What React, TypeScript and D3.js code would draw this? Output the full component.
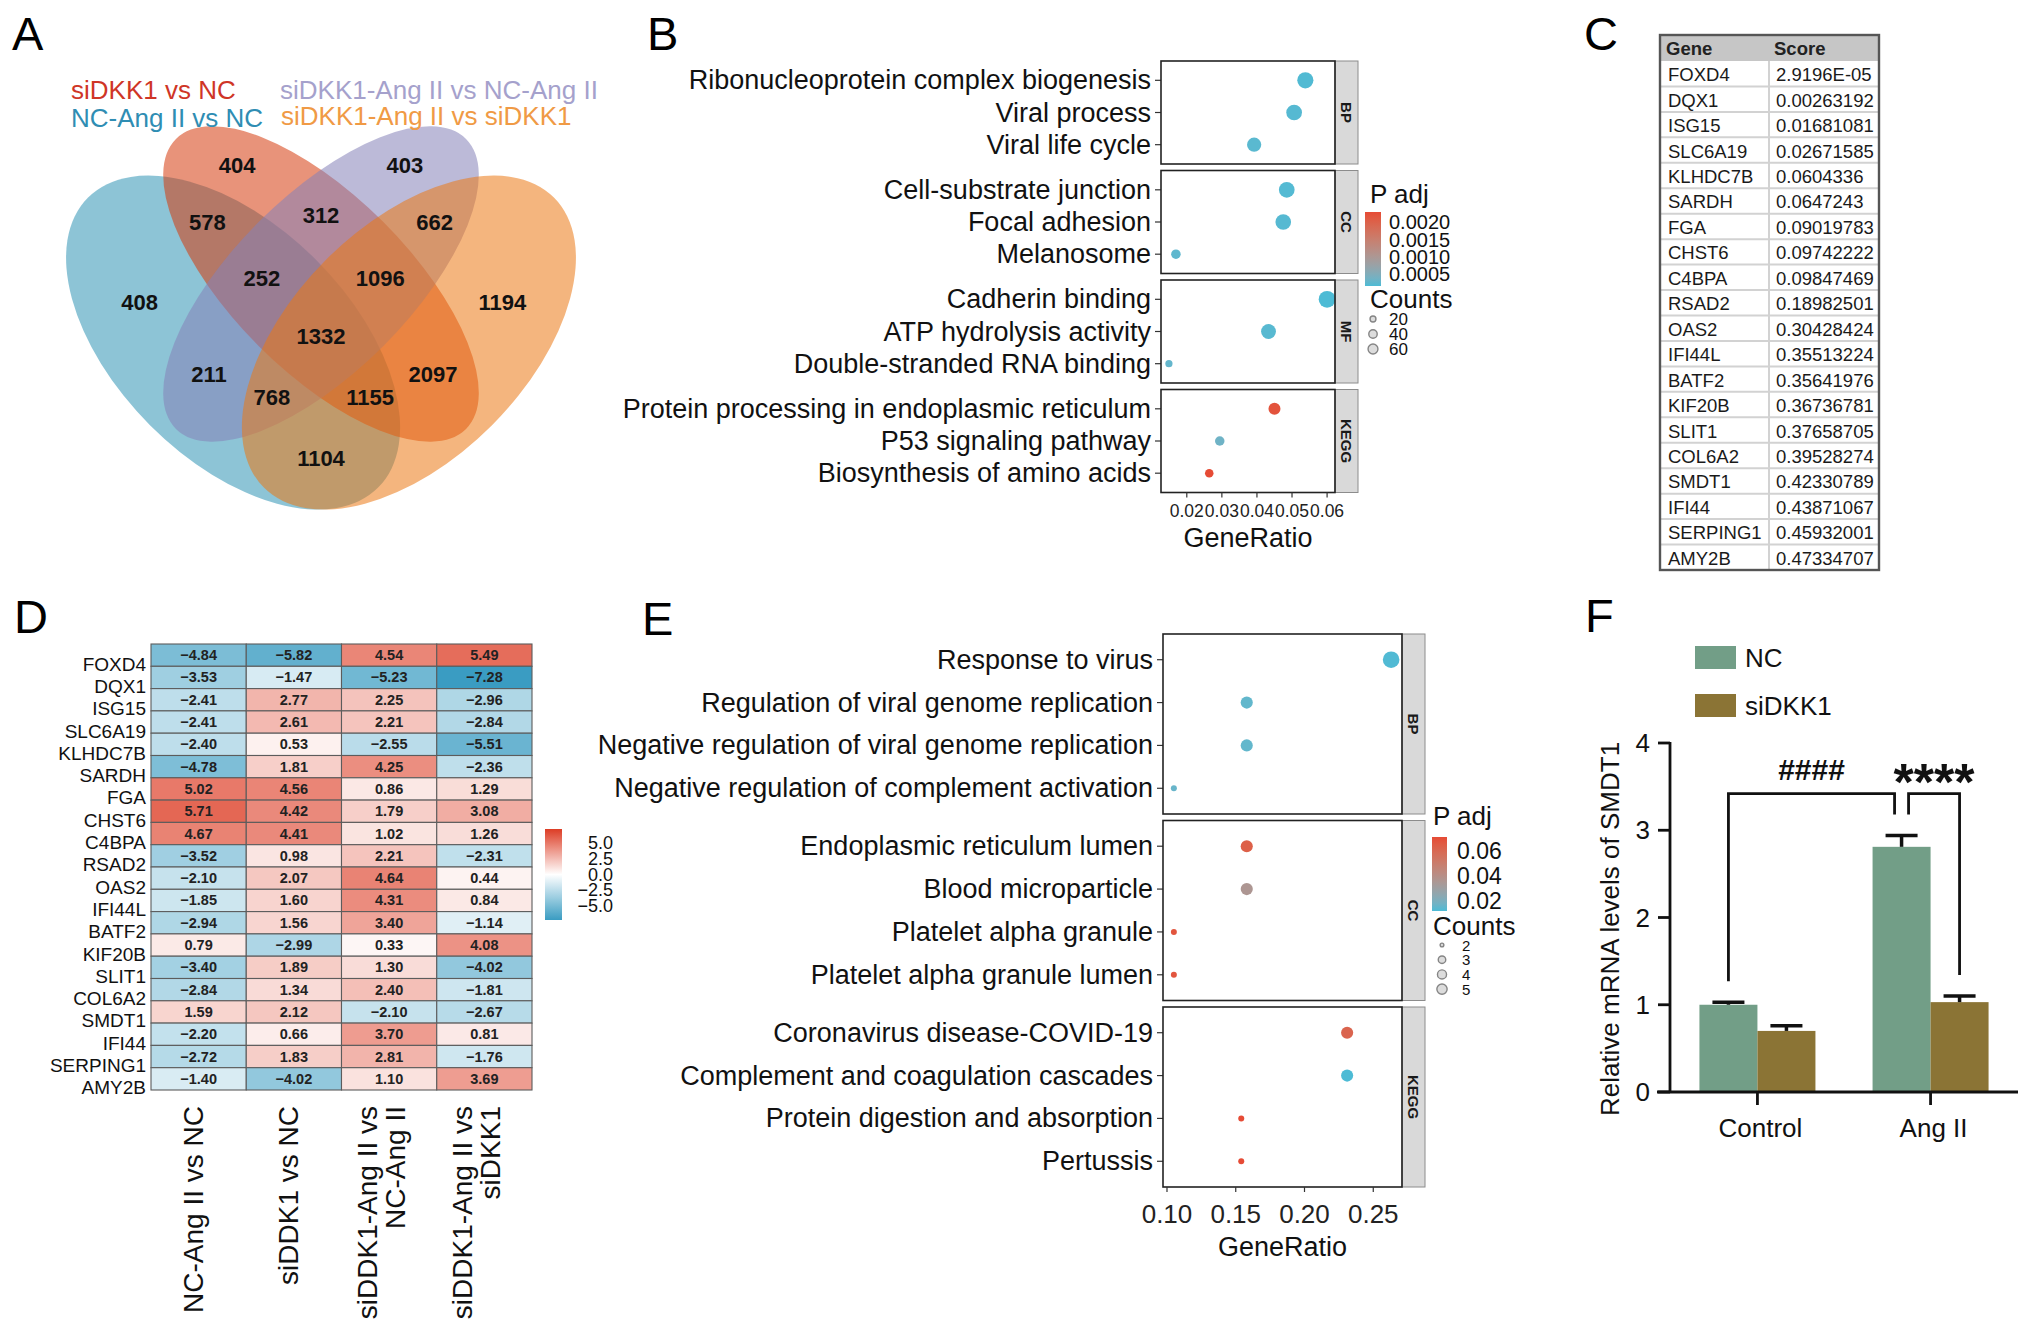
import * as d3 from 'd3';
import React, { useMemo } from 'react';

const FONT = "'Liberation Sans', Arial, Helvetica, sans-serif";

// ---------------- Panel A: Venn ----------------
const vennSetNames = [
  'NC-Ang II vs NC',
  'siDKK1 vs NC',
  'siDKK1-Ang II vs NC-Ang II',
  'siDKK1-Ang II vs siDKK1',
];
const vennRegionSets = [
  [0], [1], [2], [3],
  [0, 1], [1, 2], [2, 3],
  [0, 1, 2], [1, 2, 3], [0, 1, 2, 3],
  [0, 2], [1, 3], [0, 2, 3], [0, 1, 3], [0, 3],
];
const vennRegionCounts = [408, 404, 403, 1194, 578, 312, 662, 252, 1096, 1332, 211, 2097, 768, 1155, 1104];

// ---------------- Panel B: GO/KEGG dot plot ----------------
const bTerms = [
  'Ribonucleoprotein complex biogenesis',
  'Viral process',
  'Viral life cycle',
  'Cell-substrate junction',
  'Focal adhesion',
  'Melanosome',
  'Cadherin binding',
  'ATP hydrolysis activity',
  'Double-stranded RNA binding',
  'Protein processing in endoplasmic reticulum',
  'P53 signaling pathway',
  'Biosynthesis of amino acids',
];
const bCategory = ['BP', 'BP', 'BP', 'CC', 'CC', 'CC', 'MF', 'MF', 'MF', 'KEGG', 'KEGG', 'KEGG'];
const bRatio = [0.0538, 0.0506, 0.0392, 0.0485, 0.0475, 0.0169, 0.06, 0.0433, 0.0149, 0.045, 0.0294, 0.0264];
const bCount = [62, 58, 45, 58, 57, 20, 69, 50, 17, 30, 20, 18];
const bPadj = [0.00018, 0.0002, 0.00022, 0.00019, 0.0002, 0.00025, 0.00016, 0.00021, 0.00028, 0.0022, 0.00035, 0.0023];
const bXTicks = [0.02, 0.03, 0.04, 0.05, 0.06];
const bPadjBreaks = [0.0005, 0.001, 0.0015, 0.002];
const bCountBreaks = [20, 40, 60];

// ---------------- Panel C: table ----------------
const tableGenes = [
  'FOXD4', 'DQX1', 'ISG15', 'SLC6A19', 'KLHDC7B', 'SARDH', 'FGA', 'CHST6', 'C4BPA', 'RSAD2',
  'OAS2', 'IFI44L', 'BATF2', 'KIF20B', 'SLIT1', 'COL6A2', 'SMDT1', 'IFI44', 'SERPING1', 'AMY2B',
];
const tableScores = [
  '2.9196E-05', '0.00263192', '0.01681081', '0.02671585', '0.0604336', '0.0647243', '0.09019783',
  '0.09742222', '0.09847469', '0.18982501', '0.30428424', '0.35513224', '0.35641976', '0.36736781',
  '0.37658705', '0.39528274', '0.42330789', '0.43871067', '0.45932001', '0.47334707',
];

// ---------------- Panel D: heatmap ----------------
const heatGenes = tableGenes;
const heatColumns = ['NC-Ang II vs NC', 'siDDK1 vs NC', 'siDDK1-Ang II vs\nNC-Ang II', 'siDDK1-Ang II vs\nsiDKK1'];
const heatNcAngVsNc = [-4.84, -3.53, -2.41, -2.41, -2.4, -4.78, 5.02, 5.71, 4.67, -3.52, -2.1, -1.85, -2.94, 0.79, -3.4, -2.84, 1.59, -2.2, -2.72, -1.4];
const heatSiVsNc = [-5.82, -1.47, 2.77, 2.61, 0.53, 1.81, 4.56, 4.42, 4.41, 0.98, 2.07, 1.6, 1.56, -2.99, 1.89, 1.34, 2.12, 0.66, 1.83, -4.02];
const heatSiAngVsNcAng = [4.54, -5.23, 2.25, 2.21, -2.55, 4.25, 0.86, 1.79, 1.02, 2.21, 4.64, 4.31, 3.4, 0.33, 1.3, 2.4, -2.1, 3.7, 2.81, 1.1];
const heatSiAngVsSi = [5.49, -7.28, -2.96, -2.84, -5.51, -2.36, 1.29, 3.08, 1.26, -2.31, 0.44, 0.84, -1.14, 4.08, -4.02, -1.81, -2.67, 0.81, -1.76, 3.69];
const heatLegendBreaks = [5, 2.5, 0, -2.5, -5];

// ---------------- Panel E: dot plot ----------------
const eTerms = [
  'Response to virus',
  'Regulation of viral genome replication',
  'Negative regulation of viral genome replication',
  'Negative regulation of complement activation',
  'Endoplasmic reticulum lumen',
  'Blood microparticle',
  'Platelet alpha granule',
  'Platelet alpha granule lumen',
  'Coronavirus disease-COVID-19',
  'Complement and coagulation cascades',
  'Protein digestion and absorption',
  'Pertussis',
];
const eCategory = ['BP', 'BP', 'BP', 'BP', 'CC', 'CC', 'CC', 'CC', 'KEGG', 'KEGG', 'KEGG', 'KEGG'];
const eRatio = [0.263, 0.158, 0.158, 0.105, 0.158, 0.158, 0.105, 0.105, 0.231, 0.231, 0.154, 0.154];
const eCount = [5, 3, 3, 2, 3, 3, 2, 2, 3, 3, 2, 2];
const ePadj = [0.0125, 0.015, 0.015, 0.016, 0.064, 0.036, 0.068, 0.068, 0.062, 0.012, 0.0715, 0.0715];
const eXTicks = [0.1, 0.15, 0.2, 0.25];
const ePadjBreaks = [0.02, 0.04, 0.06];
const eCountBreaks = [2, 3, 4, 5];

// ---------------- Panel F: bars ----------------
const fGroups = ['Control', 'Ang II'];
const fSeries = ['NC', 'siDKK1'];
const fMeanNC = [1.0, 2.81];
const fSemNC = [0.03, 0.13];
const fMeanSi = [0.7, 1.03];
const fSemSi = [0.06, 0.07];
const fYTicks = [0, 1, 2, 3, 4];
const fComparisons = [
  { a: ['Control', 'NC'], b: ['Ang II', 'NC'], label: '####' },
  { a: ['Ang II', 'NC'], b: ['Ang II', 'siDKK1'], label: '****' },
];

// ---------------- helpers ----------------
const vennEllipses = [
  { cx: 0.35, cy: 0.47, a: 0.35, b: 0.2, rot: 135 },
  { cx: 0.5, cy: 0.57, a: 0.35, b: 0.15, rot: 135 },
  { cx: 0.5, cy: 0.57, a: 0.35, b: 0.15, rot: 45 },
  { cx: 0.65, cy: 0.47, a: 0.35, b: 0.2, rot: 45 },
];
const vennFill = ['#3094b5', '#d53a0c', '#8581b8', '#eb7814'];
const vennText = ['#2f8db3', '#cf3526', '#a5a1cc', '#f09a45'];

const insideEllipse = (e: any, x: number, y: number) => {
  const t = (e.rot * Math.PI) / 180;
  const dx = x - e.cx;
  const dy = y - e.cy;
  const u = dx * Math.cos(t) + dy * Math.sin(t);
  const v = -dx * Math.sin(t) + dy * Math.cos(t);
  return (u * u) / (e.a * e.a) + (v * v) / (e.b * e.b) <= 1;
};

// label anchor = centroid of each region's body (its thin rim is dropped via a chamfer distance transform)
const regionAnchors = () => {
  const N = 220;
  const code = new Uint8Array(N * N);
  for (let j = 0; j < N; j++)
    for (let i = 0; i < N; i++) {
      const x = (i + 0.5) / N;
      const y = (j + 0.5) / N;
      let m = 0;
      vennEllipses.forEach((e, k) => {
        if (insideEllipse(e, x, y)) m |= 1 << k;
      });
      code[j * N + i] = m;
    }
  return vennRegionSets.map((sets) => {
    const key = sets.reduce((s, k) => s | (1 << k), 0);
    const d = new Float32Array(N * N);
    for (let p = 0; p < N * N; p++) d[p] = code[p] === key ? 1e9 : 0;
    const g = (i: number, j: number) => (i < 0 || j < 0 || i >= N || j >= N ? 0 : d[j * N + i]);
    for (let j = 0; j < N; j++)
      for (let i = 0; i < N; i++) {
        const p = j * N + i;
        if (d[p] === 0) continue;
        d[p] = Math.min(d[p], g(i - 1, j) + 1, g(i, j - 1) + 1, g(i - 1, j - 1) + 1.414, g(i + 1, j - 1) + 1.414);
      }
    for (let j = N - 1; j >= 0; j--)
      for (let i = N - 1; i >= 0; i--) {
        const p = j * N + i;
        if (d[p] === 0) continue;
        d[p] = Math.min(d[p], g(i + 1, j) + 1, g(i, j + 1) + 1, g(i + 1, j + 1) + 1.414, g(i - 1, j + 1) + 1.414);
      }
    let sx = 0, sy = 0, n = 0;
    for (let j = 0; j < N; j++)
      for (let i = 0; i < N; i++) {
        if (d[j * N + i] >= 2) {
          sx += (i + 0.5) / N;
          sy += (j + 0.5) / N;
          n += 1;
        }
      }
    return [sx / n, sy / n];
  });
};

const Venn = () => {
  const vx = d3.scaleLinear().domain([0, 1]).range([28, 614]);
  const vy = d3.scaleLinear().domain([0, 1]).range([618, 32]);
  const anchors = useMemo(regionAnchors, []);
  const legendPos = [[71, 127], [71, 99], [280, 99], [281, 125]];
  return (
    <g>
      {vennEllipses.map((e, i) => (
        <ellipse
          key={i}
          cx={vx(e.cx)}
          cy={vy(e.cy)}
          rx={vx(e.a) - vx(0)}
          ry={vx(e.b) - vx(0)}
          transform={`rotate(${-e.rot} ${vx(e.cx)} ${vy(e.cy)})`}
          fill={vennFill[i]}
          fillOpacity={0.55}
        />
      ))}
      {vennRegionCounts.map((c, i) => (
        <text
          key={i}
          x={vx(anchors[i][0])}
          y={vy(anchors[i][1])}
          textAnchor="middle"
          dominantBaseline="central"
          fontSize={22}
          fontWeight="bold"
          fill="#111"
        >
          {c}
        </text>
      ))}
      {vennSetNames.map((s, i) => (
        <text key={s} x={legendPos[i][0]} y={legendPos[i][1]} fontSize={26} fill={vennText[i]}>
          {s}
        </text>
      ))}
    </g>
  );
};

const DotPlot = (p: any) => {
  const cats: string[] = Array.from(new Set(p.cats as string[]));
  const [lo, hi] = d3.extent(p.ratios as number[]) as [number, number];
  const pad = (hi - lo) * 0.05;
  const x = d3.scaleLinear().domain([lo - pad, hi + pad]).range([p.x0, p.x1]);
  const [pmin, pmax] = d3.extent(p.padj as number[]) as [number, number];
  const color = d3
    .scaleLinear<string>()
    .domain([pmin, pmax])
    .range(['#4DBBD5', '#E64B35'])
    .interpolate(d3.interpolateLab);
  const [cmin, cmax] = d3.extent(p.counts as number[]) as [number, number];
  const tc = d3.scaleLinear().domain([cmin, cmax]).range([0, 1]).clamp(true);
  const size = (c: number) => p.rMin + (p.rMax - p.rMin) * Math.sqrt(tc(c));
  const bottom = p.top + cats.length * p.facetH + (cats.length - 1) * p.gap;
  const L = p.legend;
  const ly = d3.scaleLinear().domain([pmin, pmax]).range([L.barY1, L.barY0]);
  const gid = `grad-${p.id}`;
  return (
    <g>
      <defs>
        <linearGradient id={gid} x1="0" y1="1" x2="0" y2="0">
          {d3.range(11).map((k) => (
            <stop key={k} offset={k / 10} stopColor={color(pmin + (k / 10) * (pmax - pmin))} />
          ))}
        </linearGradient>
      </defs>
      {cats.map((cat, ci) => {
        const top = p.top + ci * (p.facetH + p.gap);
        const idx = (p.cats as string[]).map((c, i) => (c === cat ? i : -1)).filter((i) => i >= 0);
        const y = d3
          .scalePoint<number>()
          .domain(idx)
          .range([top, top + p.facetH])
          .padding(0.6);
        return (
          <g key={cat}>
            <rect x={p.x0} y={top} width={p.x1 - p.x0} height={p.facetH} fill="#fff" />
            <rect x={p.x1} y={top} width={p.stripW} height={p.facetH} fill="#d9d9d9" stroke="#8c8c8c" strokeWidth={1} />
            <text
              transform={`translate(${p.x1 + p.stripW / 2},${top + p.facetH / 2}) rotate(90)`}
              textAnchor="middle"
              dominantBaseline="central"
              fontSize={15}
              fontWeight="bold"
              fill="#1a1a1a"
            >
              {cat}
            </text>
            {idx.map((i) => (
              <g key={i}>
                <line x1={p.x0 - 6} x2={p.x0} y1={y(i)} y2={y(i)} stroke="#333" strokeWidth={1.2} />
                <text x={p.x0 - 10} y={y(i)} textAnchor="end" dominantBaseline="central" fontSize={27} fill="#111">
                  {p.terms[i]}
                </text>
                <circle cx={x(p.ratios[i])} cy={y(i)} r={size(p.counts[i])} fill={color(p.padj[i])} />
              </g>
            ))}
            <rect x={p.x0} y={top} width={p.x1 - p.x0} height={p.facetH} fill="none" stroke="#222" strokeWidth={1.6} />
          </g>
        );
      })}
      {p.ticks.map((t: number) => (
        <g key={t}>
          <line x1={x(t)} x2={x(t)} y1={bottom} y2={bottom + 5} stroke="#333" strokeWidth={1.2} />
          <text x={x(t)} y={p.tickLabelY} textAnchor="middle" dominantBaseline="central" fontSize={p.tickFont} fill="#222">
            {d3.format('.2f')(t)}
          </text>
        </g>
      ))}
      <text x={(p.x0 + p.x1) / 2} y={p.titleY} textAnchor="middle" dominantBaseline="central" fontSize={27} fill="#111">
        GeneRatio
      </text>
      {/* legends */}
      <text x={L.x} y={L.padjTitleY} fontSize={26} fill="#111">
        P adj
      </text>
      <rect x={L.barX} y={L.barY0} width={L.barW} height={L.barY1 - L.barY0} fill={`url(#${gid})`} />
      {p.padjBreaks.map((b: number) => (
        <text key={b} x={L.labelX} y={ly(b)} dominantBaseline="central" fontSize={L.padjFont} fill="#111">
          {d3.format(L.padjFmt)(b)}
        </text>
      ))}
      <text x={L.x} y={L.countTitleY} fontSize={26} fill="#111">
        Counts
      </text>
      {p.countBreaks.map((b: number, k: number) => (
        <g key={b}>
          <circle cx={L.circleX} cy={L.circleY0 + k * L.circleStep} r={size(b) * 0.62} fill="#dcdcdc" stroke="#858585" strokeWidth={1.4} />
          <text x={L.countLabelX} y={L.circleY0 + k * L.circleStep} dominantBaseline="central" fontSize={L.countFont} fill="#111">
            {b}
          </text>
        </g>
      ))}
    </g>
  );
};

const Table = () => {
  const x0 = 1660, x1 = 1879, xm = 1769, top = 35, head = 61, bottom = 570;
  const y = d3.scaleBand<string>().domain(tableGenes).range([head, bottom]);
  return (
    <g>
      <rect x={x0} y={top} width={x1 - x0} height={head - top} fill="#c6c6c6" />
      <text x={x0 + 6} y={(top + head) / 2} dominantBaseline="central" fontSize={18.5} fontWeight="bold" fill="#222">
        Gene
      </text>
      <text x={xm + 5} y={(top + head) / 2} dominantBaseline="central" fontSize={18.5} fontWeight="bold" fill="#222">
        Score
      </text>
      {tableGenes.map((g, i) => (
        <g key={g}>
          {i > 0 && <line x1={x0} x2={x1} y1={y(g)} y2={y(g)} stroke="#d2d2d2" strokeWidth={2} />}
          <text x={x0 + 8} y={(y(g) as number) + y.bandwidth() / 2 + 1} dominantBaseline="central" fontSize={18.5} fill="#1a1a1a">
            {g}
          </text>
          <text x={xm + 7} y={(y(g) as number) + y.bandwidth() / 2 + 1} dominantBaseline="central" fontSize={18.5} fill="#1a1a1a">
            {tableScores[i]}
          </text>
        </g>
      ))}
      <line x1={xm} x2={xm} y1={head} y2={bottom} stroke="#d2d2d2" strokeWidth={2} />
      <rect x={x0} y={top} width={x1 - x0} height={bottom - top} fill="none" stroke="#555" strokeWidth={2.4} />
    </g>
  );
};

const Heatmap = () => {
  const cols = [heatNcAngVsNc, heatSiVsNc, heatSiAngVsNcAng, heatSiAngVsSi];
  const x = d3.scaleBand<string>().domain(heatColumns).range([151, 532]);
  const y = d3.scaleBand<string>().domain(heatGenes).range([644, 1090]);
  const lim = d3.max(cols.flat(), (v) => Math.abs(v)) as number;
  const color = d3.scaleLinear<string>().domain([-lim, 0, lim]).range(['#3a9cc2', '#ffffff', '#dd3d25']);
  const ly = d3.scaleLinear().domain([-lim, lim]).range([920, 829]);
  const fmt = d3.format('.2f');
  return (
    <g>
      <defs>
        <linearGradient id="heat-grad" x1="0" y1="1" x2="0" y2="0">
          {d3.range(21).map((k) => (
            <stop key={k} offset={k / 20} stopColor={color(-lim + (k / 20) * 2 * lim)} />
          ))}
        </linearGradient>
      </defs>
      {heatColumns.map((c, ci) =>
        heatGenes.map((g, gi) => (
          <g key={c + g}>
            <rect
              x={x(c)}
              y={y(g)}
              width={x.bandwidth()}
              height={y.bandwidth()}
              fill={color(cols[ci][gi])}
              stroke="#5c5c5c"
              strokeWidth={1.1}
            />
            <text
              x={(x(c) as number) + x.bandwidth() / 2}
              y={(y(g) as number) + y.bandwidth() / 2}
              textAnchor="middle"
              dominantBaseline="central"
              fontSize={14.5}
              fontWeight="bold"
              fill="#222"
            >
              {fmt(cols[ci][gi])}
            </text>
          </g>
        ))
      )}
      {heatGenes.map((g) => (
        <text key={g} x={146} y={(y(g) as number) + y.bandwidth() / 2 + 9} textAnchor="end" dominantBaseline="central" fontSize={19} fill="#111">
          {g}
        </text>
      ))}
      {heatColumns.map((c) => {
        const cx = (x(c) as number) + x.bandwidth() / 2;
        const lines = c.split('\n');
        const n = lines.length;
        return lines.map((line, k) => (
          <text
            key={c + k}
            transform={`translate(${cx + 4 + 28 * (k - (n - 1) / 2) - (n - 1) * 2},1106) rotate(-90)`}
            textAnchor="end"
            fontSize={28}
            fill="#111"
          >
            {line}
          </text>
        ));
      })}
      <rect x={545} y={829} width={17} height={91} fill="url(#heat-grad)" />
      {heatLegendBreaks.map((b) => (
        <text key={b} x={613} y={ly(b)} textAnchor="end" dominantBaseline="central" fontSize={18} fill="#111">
          {d3.format('.1f')(b)}
        </text>
      ))}
    </g>
  );
};

const Bars = () => {
  const y = d3.scaleLinear().domain([0, 4]).range([1092, 743]);
  const x = d3.scaleBand<string>().domain(fGroups).range([1670, 2018]).paddingInner(0.33).paddingOuter(0.17);
  const xs = d3.scaleBand<string>().domain(fSeries).range([0, x.bandwidth()]);
  const means: Record<string, number[]> = { NC: fMeanNC, siDKK1: fMeanSi };
  const sems: Record<string, number[]> = { NC: fSemNC, siDKK1: fSemSi };
  const colors: Record<string, string> = { NC: '#729e87', siDKK1: '#8b7435' };
  const center = (g: string, s: string) => (x(g) as number) + (xs(s) as number) + xs.bandwidth() / 2;
  const topOf = (g: string, s: string) => means[s][fGroups.indexOf(g)] + sems[s][fGroups.indexOf(g)];
  const gap = 0.24;
  const level = (d3.max(fComparisons.flatMap((c) => [topOf(c.a[0], c.a[1]), topOf(c.b[0], c.b[1])])) as number) + 2 * gap;
  const key = (e: string[]) => e.join('|');
  const uses = d3.rollup(fComparisons.flatMap((c) => [key(c.a), key(c.b)]), (v) => v.length, (d) => d);
  return (
    <g>
      {fSeries.map((s, si) => (
        <g key={s}>
          <rect x={1695} y={646 + si * 48} width={41} height={23} fill={colors[s]} />
          <text x={1745} y={658 + si * 48} dominantBaseline="central" fontSize={26} fill="#111">
            {s}
          </text>
        </g>
      ))}
      {fGroups.map((g, gi) =>
        fSeries.map((s) => {
          const bx = (x(g) as number) + (xs(s) as number);
          const cx = bx + xs.bandwidth() / 2;
          const m = means[s][gi];
          const e = m + sems[s][gi];
          return (
            <g key={g + s}>
              <rect x={bx} y={y(m)} width={xs.bandwidth()} height={y(0) - y(m)} fill={colors[s]} />
              <line x1={cx} x2={cx} y1={y(m)} y2={y(e)} stroke="#111" strokeWidth={3.5} />
              <line x1={cx - 16} x2={cx + 16} y1={y(e)} y2={y(e)} stroke="#111" strokeWidth={3.5} />
            </g>
          );
        })
      )}
      {/* axes */}
      <line x1={1670} x2={1670} y1={y(4) - 1} y2={y(0)} stroke="#111" strokeWidth={2.8} />
      <line x1={1657} x2={2018} y1={y(0)} y2={y(0)} stroke="#111" strokeWidth={2.8} />
      {fYTicks.map((t) => (
        <g key={t}>
          <line x1={1658} x2={1670} y1={y(t)} y2={y(t)} stroke="#111" strokeWidth={2.8} />
          <text x={1650} y={y(t)} textAnchor="end" dominantBaseline="central" fontSize={26} fill="#111">
            {t}
          </text>
        </g>
      ))}
      {fGroups.map((g) => {
        const cx = (x(g) as number) + x.bandwidth() / 2;
        return (
          <g key={g}>
            <line x1={cx} x2={cx} y1={y(0)} y2={y(0) + 13} stroke="#111" strokeWidth={2.8} />
            <text x={cx + 3} y={1128} textAnchor="middle" dominantBaseline="central" fontSize={26} fill="#111">
              {g}
            </text>
          </g>
        );
      })}
      <text transform="translate(1610,929) rotate(-90)" textAnchor="middle" dominantBaseline="central" fontSize={26} fill="#111">
        Relative mRNA levels of SMDT1
      </text>
      {fComparisons.map((c) => {
        const xa = center(c.a[0], c.a[1]) + ((uses.get(key(c.a)) as number) > 1 ? 7 : 0);
        const xb = center(c.b[0], c.b[1]) - ((uses.get(key(c.b)) as number) > 1 ? 7 : 0);
        const ya = y(topOf(c.a[0], c.a[1]) + gap);
        const yb = y(topOf(c.b[0], c.b[1]) + gap);
        const yl = y(level);
        const stars = c.label.startsWith('*');
        return (
          <g key={c.label}>
            <path d={`M${xa},${ya}V${yl}H${xb}V${yb}`} fill="none" stroke="#111" strokeWidth={2.8} />
            <text
              x={(xa + xb) / 2}
              y={stars ? yl + 6 : yl - 14}
              textAnchor="middle"
              fontSize={stars ? 52 : 30}
              fontWeight="bold"
              fill="#111"
            >
              {c.label}
            </text>
          </g>
        );
      })}
    </g>
  );
};

const PanelLetter = ({ x, y, t }: any) => (
  <text x={x} y={y} fontSize={47} fill="#000">
    {t}
  </text>
);

export default function App() {
  return (
    <svg
      width={2032}
      height={1321}
      viewBox="0 0 2032 1321"
      style={{ position: 'absolute', left: 0, top: 0, background: '#fff' }}
      fontFamily={FONT}
    >
      <rect width={2032} height={1321} fill="#fff" />
      <PanelLetter x={12} y={50} t="A" />
      <PanelLetter x={647} y={50} t="B" />
      <PanelLetter x={1584} y={50} t="C" />
      <PanelLetter x={14} y={633} t="D" />
      <PanelLetter x={642} y={635} t="E" />
      <PanelLetter x={1585} y={632} t="F" />
      <Venn />
      <DotPlot
        id="b"
        terms={bTerms}
        cats={bCategory}
        ratios={bRatio}
        counts={bCount}
        padj={bPadj}
        ticks={bXTicks}
        padjBreaks={bPadjBreaks}
        countBreaks={bCountBreaks}
        x0={1161}
        x1={1335}
        stripW={23}
        top={61}
        facetH={103}
        gap={6.5}
        tickLabelY={511}
        tickFont={17.5}
        titleY={538}
        rMin={3.6}
        rMax={8.4}
        legend={{
          x: 1370, padjTitleY: 203, barX: 1365, barW: 16, barY0: 212, barY1: 286, labelX: 1389,
          padjFont: 20, padjFmt: '.4f', countTitleY: 308, circleX: 1373, circleY0: 319, circleStep: 15,
          countLabelX: 1389, countFont: 17,
        }}
      />
      <Table />
      <Heatmap />
      <DotPlot
        id="e"
        terms={eTerms}
        cats={eCategory}
        ratios={eRatio}
        counts={eCount}
        padj={ePadj}
        ticks={eXTicks}
        padjBreaks={ePadjBreaks}
        countBreaks={eCountBreaks}
        x0={1163}
        x1={1402}
        stripW={23}
        top={634}
        facetH={180}
        gap={6.5}
        tickLabelY={1214}
        tickFont={26}
        titleY={1247}
        rMin={3}
        rMax={8.3}
        legend={{
          x: 1433, padjTitleY: 825, barX: 1432, barW: 15, barY0: 837, barY1: 911, labelX: 1457,
          padjFont: 23, padjFmt: '.2f', countTitleY: 935, circleX: 1442, circleY0: 945, circleStep: 14.7,
          countLabelX: 1462, countFont: 15,
        }}
      />
      <Bars />
    </svg>
  );
}
